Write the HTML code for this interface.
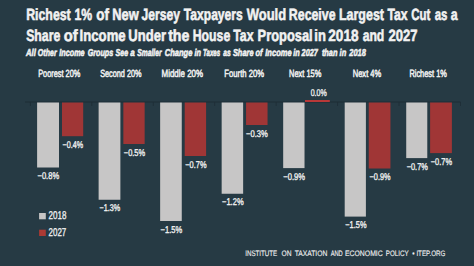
<!DOCTYPE html>
<html><head><meta charset="utf-8"><style>
html,body{margin:0;padding:0;background:#263a44;width:474px;height:266px;overflow:hidden}
svg{display:block;text-rendering:geometricPrecision}
</style></head><body>
<svg width="474" height="266" viewBox="0 0 474 266">
<rect x="0" y="0" width="474" height="266" fill="#263a44"/>
<text x="26.17" y="20.00" font-family="Liberation Sans, sans-serif" font-weight="bold" font-size="16.3" fill="#f2f2f2" stroke="#f2f2f2" stroke-width="0.55" textLength="44.58" lengthAdjust="spacingAndGlyphs">Richest</text>
<text x="74.53" y="20.00" font-family="Liberation Sans, sans-serif" font-weight="bold" font-size="16.3" fill="#f2f2f2" stroke="#f2f2f2" stroke-width="0.55" textLength="17.69" lengthAdjust="spacingAndGlyphs">1%</text>
<text x="96.27" y="20.00" font-family="Liberation Sans, sans-serif" font-weight="bold" font-size="16.3" fill="#f2f2f2" stroke="#f2f2f2" stroke-width="0.55" textLength="12.70" lengthAdjust="spacingAndGlyphs">of</text>
<text x="112.34" y="20.00" font-family="Liberation Sans, sans-serif" font-weight="bold" font-size="16.3" fill="#f2f2f2" stroke="#f2f2f2" stroke-width="0.55" textLength="26.43" lengthAdjust="spacingAndGlyphs">New</text>
<text x="141.52" y="20.00" font-family="Liberation Sans, sans-serif" font-weight="bold" font-size="16.3" fill="#f2f2f2" stroke="#f2f2f2" stroke-width="0.55" textLength="38.35" lengthAdjust="spacingAndGlyphs">Jersey</text>
<text x="183.87" y="20.00" font-family="Liberation Sans, sans-serif" font-weight="bold" font-size="16.3" fill="#f2f2f2" stroke="#f2f2f2" stroke-width="0.55" textLength="58.82" lengthAdjust="spacingAndGlyphs">Taxpayers</text>
<text x="246.79" y="20.00" font-family="Liberation Sans, sans-serif" font-weight="bold" font-size="16.3" fill="#f2f2f2" stroke="#f2f2f2" stroke-width="0.55" textLength="39.36" lengthAdjust="spacingAndGlyphs">Would</text>
<text x="288.87" y="20.00" font-family="Liberation Sans, sans-serif" font-weight="bold" font-size="16.3" fill="#f2f2f2" stroke="#f2f2f2" stroke-width="0.55" textLength="46.65" lengthAdjust="spacingAndGlyphs">Receive</text>
<text x="338.97" y="20.00" font-family="Liberation Sans, sans-serif" font-weight="bold" font-size="16.3" fill="#f2f2f2" stroke="#f2f2f2" stroke-width="0.55" textLength="44.99" lengthAdjust="spacingAndGlyphs">Largest</text>
<text x="387.57" y="20.00" font-family="Liberation Sans, sans-serif" font-weight="bold" font-size="16.3" fill="#f2f2f2" stroke="#f2f2f2" stroke-width="0.55" textLength="20.02" lengthAdjust="spacingAndGlyphs">Tax</text>
<text x="411.33" y="20.00" font-family="Liberation Sans, sans-serif" font-weight="bold" font-size="16.3" fill="#f2f2f2" stroke="#f2f2f2" stroke-width="0.55" textLength="19.01" lengthAdjust="spacingAndGlyphs">Cut</text>
<text x="434.67" y="20.00" font-family="Liberation Sans, sans-serif" font-weight="bold" font-size="16.3" fill="#f2f2f2" stroke="#f2f2f2" stroke-width="0.55" textLength="12.70" lengthAdjust="spacingAndGlyphs">as</text>
<text x="450.74" y="20.00" font-family="Liberation Sans, sans-serif" font-weight="bold" font-size="16.3" fill="#f2f2f2" stroke="#f2f2f2" stroke-width="0.55" textLength="6.88" lengthAdjust="spacingAndGlyphs">a</text>
<text x="26.18" y="41.40" font-family="Liberation Sans, sans-serif" font-weight="bold" font-size="16.3" fill="#f2f2f2" stroke="#f2f2f2" stroke-width="0.55" textLength="34.14" lengthAdjust="spacingAndGlyphs">Share</text>
<text x="63.82" y="41.40" font-family="Liberation Sans, sans-serif" font-weight="bold" font-size="16.3" fill="#f2f2f2" stroke="#f2f2f2" stroke-width="0.55" textLength="13.95" lengthAdjust="spacingAndGlyphs">of</text>
<text x="79.62" y="41.40" font-family="Liberation Sans, sans-serif" font-weight="bold" font-size="16.3" fill="#f2f2f2" stroke="#f2f2f2" stroke-width="0.55" textLength="46.03" lengthAdjust="spacingAndGlyphs">Income</text>
<text x="128.32" y="41.40" font-family="Liberation Sans, sans-serif" font-weight="bold" font-size="16.3" fill="#f2f2f2" stroke="#f2f2f2" stroke-width="0.55" textLength="37.68" lengthAdjust="spacingAndGlyphs">Under</text>
<text x="168.13" y="41.40" font-family="Liberation Sans, sans-serif" font-weight="bold" font-size="16.3" fill="#f2f2f2" stroke="#f2f2f2" stroke-width="0.55" textLength="21.26" lengthAdjust="spacingAndGlyphs">the</text>
<text x="192.68" y="41.40" font-family="Liberation Sans, sans-serif" font-weight="bold" font-size="16.3" fill="#f2f2f2" stroke="#f2f2f2" stroke-width="0.55" textLength="37.54" lengthAdjust="spacingAndGlyphs">House</text>
<text x="233.27" y="41.40" font-family="Liberation Sans, sans-serif" font-weight="bold" font-size="16.3" fill="#f2f2f2" stroke="#f2f2f2" stroke-width="0.55" textLength="20.22" lengthAdjust="spacingAndGlyphs">Tax</text>
<text x="257.54" y="41.40" font-family="Liberation Sans, sans-serif" font-weight="bold" font-size="16.3" fill="#f2f2f2" stroke="#f2f2f2" stroke-width="0.55" textLength="55.18" lengthAdjust="spacingAndGlyphs">Proposal</text>
<text x="314.30" y="41.40" font-family="Liberation Sans, sans-serif" font-weight="bold" font-size="16.3" fill="#f2f2f2" stroke="#f2f2f2" stroke-width="0.55" textLength="11.51" lengthAdjust="spacingAndGlyphs">in</text>
<text x="328.33" y="41.40" font-family="Liberation Sans, sans-serif" font-weight="bold" font-size="16.3" fill="#f2f2f2" stroke="#f2f2f2" stroke-width="0.55" textLength="30.19" lengthAdjust="spacingAndGlyphs">2018</text>
<text x="362.64" y="41.40" font-family="Liberation Sans, sans-serif" font-weight="bold" font-size="16.3" fill="#f2f2f2" stroke="#f2f2f2" stroke-width="0.55" textLength="21.66" lengthAdjust="spacingAndGlyphs">and</text>
<text x="388.45" y="41.40" font-family="Liberation Sans, sans-serif" font-weight="bold" font-size="16.3" fill="#f2f2f2" stroke="#f2f2f2" stroke-width="0.55" textLength="29.03" lengthAdjust="spacingAndGlyphs">2027</text>
<text x="25.96" y="55.70" font-family="Liberation Sans, sans-serif" font-weight="bold" font-style="italic" font-size="10" fill="#f2f2f2" stroke="#f2f2f2" stroke-width="0.55" textLength="9.81" lengthAdjust="spacingAndGlyphs">All</text>
<text x="37.86" y="55.70" font-family="Liberation Sans, sans-serif" font-weight="bold" font-style="italic" font-size="10" fill="#f2f2f2" stroke="#f2f2f2" stroke-width="0.55" textLength="18.82" lengthAdjust="spacingAndGlyphs">Other</text>
<text x="59.27" y="55.70" font-family="Liberation Sans, sans-serif" font-weight="bold" font-style="italic" font-size="10" fill="#f2f2f2" stroke="#f2f2f2" stroke-width="0.55" textLength="25.33" lengthAdjust="spacingAndGlyphs">Income</text>
<text x="87.65" y="55.70" font-family="Liberation Sans, sans-serif" font-weight="bold" font-style="italic" font-size="10" fill="#f2f2f2" stroke="#f2f2f2" stroke-width="0.55" textLength="25.50" lengthAdjust="spacingAndGlyphs">Groups</text>
<text x="115.51" y="55.70" font-family="Liberation Sans, sans-serif" font-weight="bold" font-style="italic" font-size="10" fill="#f2f2f2" stroke="#f2f2f2" stroke-width="0.55" textLength="12.58" lengthAdjust="spacingAndGlyphs">See</text>
<text x="130.36" y="55.70" font-family="Liberation Sans, sans-serif" font-weight="bold" font-style="italic" font-size="10" fill="#f2f2f2" stroke="#f2f2f2" stroke-width="0.55" textLength="4.48" lengthAdjust="spacingAndGlyphs">a</text>
<text x="137.32" y="55.70" font-family="Liberation Sans, sans-serif" font-weight="bold" font-style="italic" font-size="10" fill="#f2f2f2" stroke="#f2f2f2" stroke-width="0.55" textLength="24.28" lengthAdjust="spacingAndGlyphs">Smaller</text>
<text x="164.73" y="55.70" font-family="Liberation Sans, sans-serif" font-weight="bold" font-style="italic" font-size="10" fill="#f2f2f2" stroke="#f2f2f2" stroke-width="0.55" textLength="27.68" lengthAdjust="spacingAndGlyphs">Change</text>
<text x="194.47" y="55.70" font-family="Liberation Sans, sans-serif" font-weight="bold" font-style="italic" font-size="10" fill="#f2f2f2" stroke="#f2f2f2" stroke-width="0.55" textLength="6.53" lengthAdjust="spacingAndGlyphs">in</text>
<text x="202.97" y="55.70" font-family="Liberation Sans, sans-serif" font-weight="bold" font-style="italic" font-size="10" fill="#f2f2f2" stroke="#f2f2f2" stroke-width="0.55" textLength="17.24" lengthAdjust="spacingAndGlyphs">Taxes</text>
<text x="223.37" y="55.70" font-family="Liberation Sans, sans-serif" font-weight="bold" font-style="italic" font-size="10" fill="#f2f2f2" stroke="#f2f2f2" stroke-width="0.55" textLength="7.46" lengthAdjust="spacingAndGlyphs">as</text>
<text x="232.91" y="55.70" font-family="Liberation Sans, sans-serif" font-weight="bold" font-style="italic" font-size="10" fill="#f2f2f2" stroke="#f2f2f2" stroke-width="0.55" textLength="20.60" lengthAdjust="spacingAndGlyphs">Share</text>
<text x="255.57" y="55.70" font-family="Liberation Sans, sans-serif" font-weight="bold" font-style="italic" font-size="10" fill="#f2f2f2" stroke="#f2f2f2" stroke-width="0.55" textLength="7.01" lengthAdjust="spacingAndGlyphs">of</text>
<text x="265.27" y="55.70" font-family="Liberation Sans, sans-serif" font-weight="bold" font-style="italic" font-size="10" fill="#f2f2f2" stroke="#f2f2f2" stroke-width="0.55" textLength="26.34" lengthAdjust="spacingAndGlyphs">Income</text>
<text x="293.17" y="55.70" font-family="Liberation Sans, sans-serif" font-weight="bold" font-style="italic" font-size="10" fill="#f2f2f2" stroke="#f2f2f2" stroke-width="0.55" textLength="6.53" lengthAdjust="spacingAndGlyphs">in</text>
<text x="301.61" y="55.70" font-family="Liberation Sans, sans-serif" font-weight="bold" font-style="italic" font-size="10" fill="#f2f2f2" stroke="#f2f2f2" stroke-width="0.55" textLength="16.10" lengthAdjust="spacingAndGlyphs">2027</text>
<text x="321.89" y="55.70" font-family="Liberation Sans, sans-serif" font-weight="bold" font-style="italic" font-size="10" fill="#f2f2f2" stroke="#f2f2f2" stroke-width="0.55" textLength="15.62" lengthAdjust="spacingAndGlyphs">than</text>
<text x="339.57" y="55.70" font-family="Liberation Sans, sans-serif" font-weight="bold" font-style="italic" font-size="10" fill="#f2f2f2" stroke="#f2f2f2" stroke-width="0.55" textLength="6.64" lengthAdjust="spacingAndGlyphs">in</text>
<text x="349.32" y="55.70" font-family="Liberation Sans, sans-serif" font-weight="bold" font-style="italic" font-size="10" fill="#f2f2f2" stroke="#f2f2f2" stroke-width="0.55" textLength="16.50" lengthAdjust="spacingAndGlyphs">2018</text>
<text x="38.15" y="76.70" font-family="Liberation Sans, sans-serif" font-size="10.5" fill="#f2f2f2" stroke="#f2f2f2" stroke-width="0.5" textLength="42.12" lengthAdjust="spacingAndGlyphs">Poorest 20%</text>
<text x="100.17" y="76.70" font-family="Liberation Sans, sans-serif" font-size="10.5" fill="#f2f2f2" stroke="#f2f2f2" stroke-width="0.5" textLength="41.34" lengthAdjust="spacingAndGlyphs">Second 20%</text>
<text x="161.60" y="76.70" font-family="Liberation Sans, sans-serif" font-size="10.5" fill="#f2f2f2" stroke="#f2f2f2" stroke-width="0.5" textLength="41.43" lengthAdjust="spacingAndGlyphs">Middle 20%</text>
<text x="224.37" y="76.70" font-family="Liberation Sans, sans-serif" font-size="10.5" fill="#f2f2f2" stroke="#f2f2f2" stroke-width="0.5" textLength="39.65" lengthAdjust="spacingAndGlyphs">Fourth 20%</text>
<text x="289.04" y="76.70" font-family="Liberation Sans, sans-serif" font-size="10.5" fill="#f2f2f2" stroke="#f2f2f2" stroke-width="0.5" textLength="32.22" lengthAdjust="spacingAndGlyphs">Next 15%</text>
<text x="352.73" y="76.70" font-family="Liberation Sans, sans-serif" font-size="10.5" fill="#f2f2f2" stroke="#f2f2f2" stroke-width="0.5" textLength="28.54" lengthAdjust="spacingAndGlyphs">Next 4%</text>
<text x="409.39" y="76.70" font-family="Liberation Sans, sans-serif" font-size="10.5" fill="#f2f2f2" stroke="#f2f2f2" stroke-width="0.5" textLength="37.52" lengthAdjust="spacingAndGlyphs">Richest 1%</text>
<rect x="25" y="101.5" width="435.5" height="1" fill="#1d2c35"/>
<rect x="29.90" y="102" width="0.9" height="4" fill="#1f2e37"/>
<rect x="91.35" y="102" width="0.9" height="4" fill="#1f2e37"/>
<rect x="152.80" y="102" width="0.9" height="4" fill="#1f2e37"/>
<rect x="214.25" y="102" width="0.9" height="4" fill="#1f2e37"/>
<rect x="275.70" y="102" width="0.9" height="4" fill="#1f2e37"/>
<rect x="337.15" y="102" width="0.9" height="4" fill="#1f2e37"/>
<rect x="398.60" y="102" width="0.9" height="4" fill="#1f2e37"/>
<rect x="460.05" y="102" width="0.9" height="4" fill="#1f2e37"/>
<rect x="37.10" y="102.5" width="21.90" height="65.00" fill="#c7c6c6"/>
<text x="37.55" y="179.00" font-family="Liberation Sans, sans-serif" font-size="9.8" fill="#f2f2f2" stroke="#f2f2f2" stroke-width="0.35" textLength="21.54" lengthAdjust="spacingAndGlyphs">−0.8%</text>
<rect x="62.00" y="102.5" width="21.20" height="33.70" fill="#a03636"/>
<text x="62.57" y="147.70" font-family="Liberation Sans, sans-serif" font-size="9.8" fill="#f2f2f2" stroke="#f2f2f2" stroke-width="0.35" textLength="20.51" lengthAdjust="spacingAndGlyphs">−0.4%</text>
<rect x="98.62" y="102.5" width="21.76" height="97.25" fill="#c7c6c6"/>
<text x="99.57" y="211.25" font-family="Liberation Sans, sans-serif" font-size="9.8" fill="#f2f2f2" stroke="#f2f2f2" stroke-width="0.35" textLength="20.61" lengthAdjust="spacingAndGlyphs">−1.3%</text>
<rect x="123.35" y="102.5" width="21.30" height="41.50" fill="#a03636"/>
<text x="123.81" y="155.50" font-family="Liberation Sans, sans-serif" font-size="9.8" fill="#f2f2f2" stroke="#f2f2f2" stroke-width="0.35" textLength="21.28" lengthAdjust="spacingAndGlyphs">−0.5%</text>
<rect x="160.14" y="102.5" width="21.62" height="118.50" fill="#c7c6c6"/>
<text x="160.60" y="232.50" font-family="Liberation Sans, sans-serif" font-size="9.8" fill="#f2f2f2" stroke="#f2f2f2" stroke-width="0.35" textLength="21.49" lengthAdjust="spacingAndGlyphs">−1.5%</text>
<rect x="184.70" y="102.5" width="21.40" height="53.50" fill="#a03636"/>
<text x="185.31" y="167.50" font-family="Liberation Sans, sans-serif" font-size="9.8" fill="#f2f2f2" stroke="#f2f2f2" stroke-width="0.35" textLength="21.18" lengthAdjust="spacingAndGlyphs">−0.7%</text>
<rect x="221.66" y="102.5" width="21.48" height="91.25" fill="#c7c6c6"/>
<text x="222.05" y="205.25" font-family="Liberation Sans, sans-serif" font-size="9.8" fill="#f2f2f2" stroke="#f2f2f2" stroke-width="0.35" textLength="21.54" lengthAdjust="spacingAndGlyphs">−1.2%</text>
<rect x="246.05" y="102.5" width="21.50" height="22.50" fill="#a03636"/>
<text x="246.05" y="136.50" font-family="Liberation Sans, sans-serif" font-size="9.8" fill="#f2f2f2" stroke="#f2f2f2" stroke-width="0.35" textLength="21.80" lengthAdjust="spacingAndGlyphs">−0.3%</text>
<rect x="283.18" y="102.5" width="21.34" height="65.60" fill="#c7c6c6"/>
<text x="283.30" y="179.60" font-family="Liberation Sans, sans-serif" font-size="9.8" fill="#f2f2f2" stroke="#f2f2f2" stroke-width="0.35" textLength="21.80" lengthAdjust="spacingAndGlyphs">−0.9%</text>
<rect x="305" y="100" width="24.8" height="2" fill="#b83838"/>
<text x="310.70" y="96.00" font-family="Liberation Sans, sans-serif" font-size="9.8" fill="#f2f2f2" stroke="#f2f2f2" stroke-width="0.35" textLength="16.08" lengthAdjust="spacingAndGlyphs">0.0%</text>
<rect x="344.70" y="102.5" width="21.20" height="114.10" fill="#c7c6c6"/>
<text x="345.31" y="228.10" font-family="Liberation Sans, sans-serif" font-size="9.8" fill="#f2f2f2" stroke="#f2f2f2" stroke-width="0.35" textLength="21.18" lengthAdjust="spacingAndGlyphs">−1.5%</text>
<rect x="368.75" y="102.5" width="21.70" height="66.00" fill="#a03636"/>
<text x="369.56" y="180.00" font-family="Liberation Sans, sans-serif" font-size="9.8" fill="#f2f2f2" stroke="#f2f2f2" stroke-width="0.35" textLength="20.92" lengthAdjust="spacingAndGlyphs">−0.9%</text>
<rect x="406.22" y="102.5" width="21.06" height="55.60" fill="#c7c6c6"/>
<text x="406.71" y="169.60" font-family="Liberation Sans, sans-serif" font-size="9.8" fill="#f2f2f2" stroke="#f2f2f2" stroke-width="0.35" textLength="21.13" lengthAdjust="spacingAndGlyphs">−0.7%</text>
<rect x="430.10" y="102.5" width="21.80" height="50.60" fill="#a03636"/>
<text x="430.81" y="164.60" font-family="Liberation Sans, sans-serif" font-size="9.8" fill="#f2f2f2" stroke="#f2f2f2" stroke-width="0.35" textLength="21.18" lengthAdjust="spacingAndGlyphs">−0.7%</text>
<rect x="39.1" y="213" width="6.7" height="6.3" fill="#c7c6c6"/>
<text x="48.55" y="219.40" font-family="Liberation Sans, sans-serif" font-size="11.3" fill="#f2f2f2" stroke="#f2f2f2" stroke-width="0.3" textLength="17.85" lengthAdjust="spacingAndGlyphs">2018</text>
<rect x="39.1" y="229.7" width="6.7" height="6.3" fill="#ab3a34"/>
<text x="48.55" y="236.20" font-family="Liberation Sans, sans-serif" font-size="11.3" fill="#f2f2f2" stroke="#f2f2f2" stroke-width="0.3" textLength="17.70" lengthAdjust="spacingAndGlyphs">2027</text>
<text x="245.24" y="255.80" font-family="Liberation Sans, sans-serif" font-size="7.9" fill="#f2f2f2" stroke="#f2f2f2" stroke-width="0.12" textLength="31.97" lengthAdjust="spacingAndGlyphs">INSTITUTE</text>
<text x="281.49" y="255.80" font-family="Liberation Sans, sans-serif" font-size="7.9" fill="#f2f2f2" stroke="#f2f2f2" stroke-width="0.12" textLength="9.99" lengthAdjust="spacingAndGlyphs">ON</text>
<text x="294.66" y="255.80" font-family="Liberation Sans, sans-serif" font-size="7.9" fill="#f2f2f2" stroke="#f2f2f2" stroke-width="0.12" textLength="32.71" lengthAdjust="spacingAndGlyphs">TAXATION</text>
<text x="330.65" y="255.80" font-family="Liberation Sans, sans-serif" font-size="7.9" fill="#f2f2f2" stroke="#f2f2f2" stroke-width="0.12" textLength="12.06" lengthAdjust="spacingAndGlyphs">AND</text>
<text x="345.00" y="255.80" font-family="Liberation Sans, sans-serif" font-size="7.9" fill="#f2f2f2" stroke="#f2f2f2" stroke-width="0.12" textLength="37.70" lengthAdjust="spacingAndGlyphs">ECONOMIC</text>
<text x="385.80" y="255.80" font-family="Liberation Sans, sans-serif" font-size="7.9" fill="#f2f2f2" stroke="#f2f2f2" stroke-width="0.12" textLength="22.78" lengthAdjust="spacingAndGlyphs">POLICY</text>
<text x="412.30" y="255.80" font-family="Liberation Sans, sans-serif" font-size="7.9" fill="#f2f2f2" stroke="#f2f2f2" stroke-width="0.12" textLength="2.30" lengthAdjust="spacingAndGlyphs">•</text>
<text x="416.40" y="255.80" font-family="Liberation Sans, sans-serif" font-size="7.9" fill="#f2f2f2" stroke="#f2f2f2" stroke-width="0.12" textLength="28.99" lengthAdjust="spacingAndGlyphs">ITEP.ORG</text>
</svg>
</body></html>
